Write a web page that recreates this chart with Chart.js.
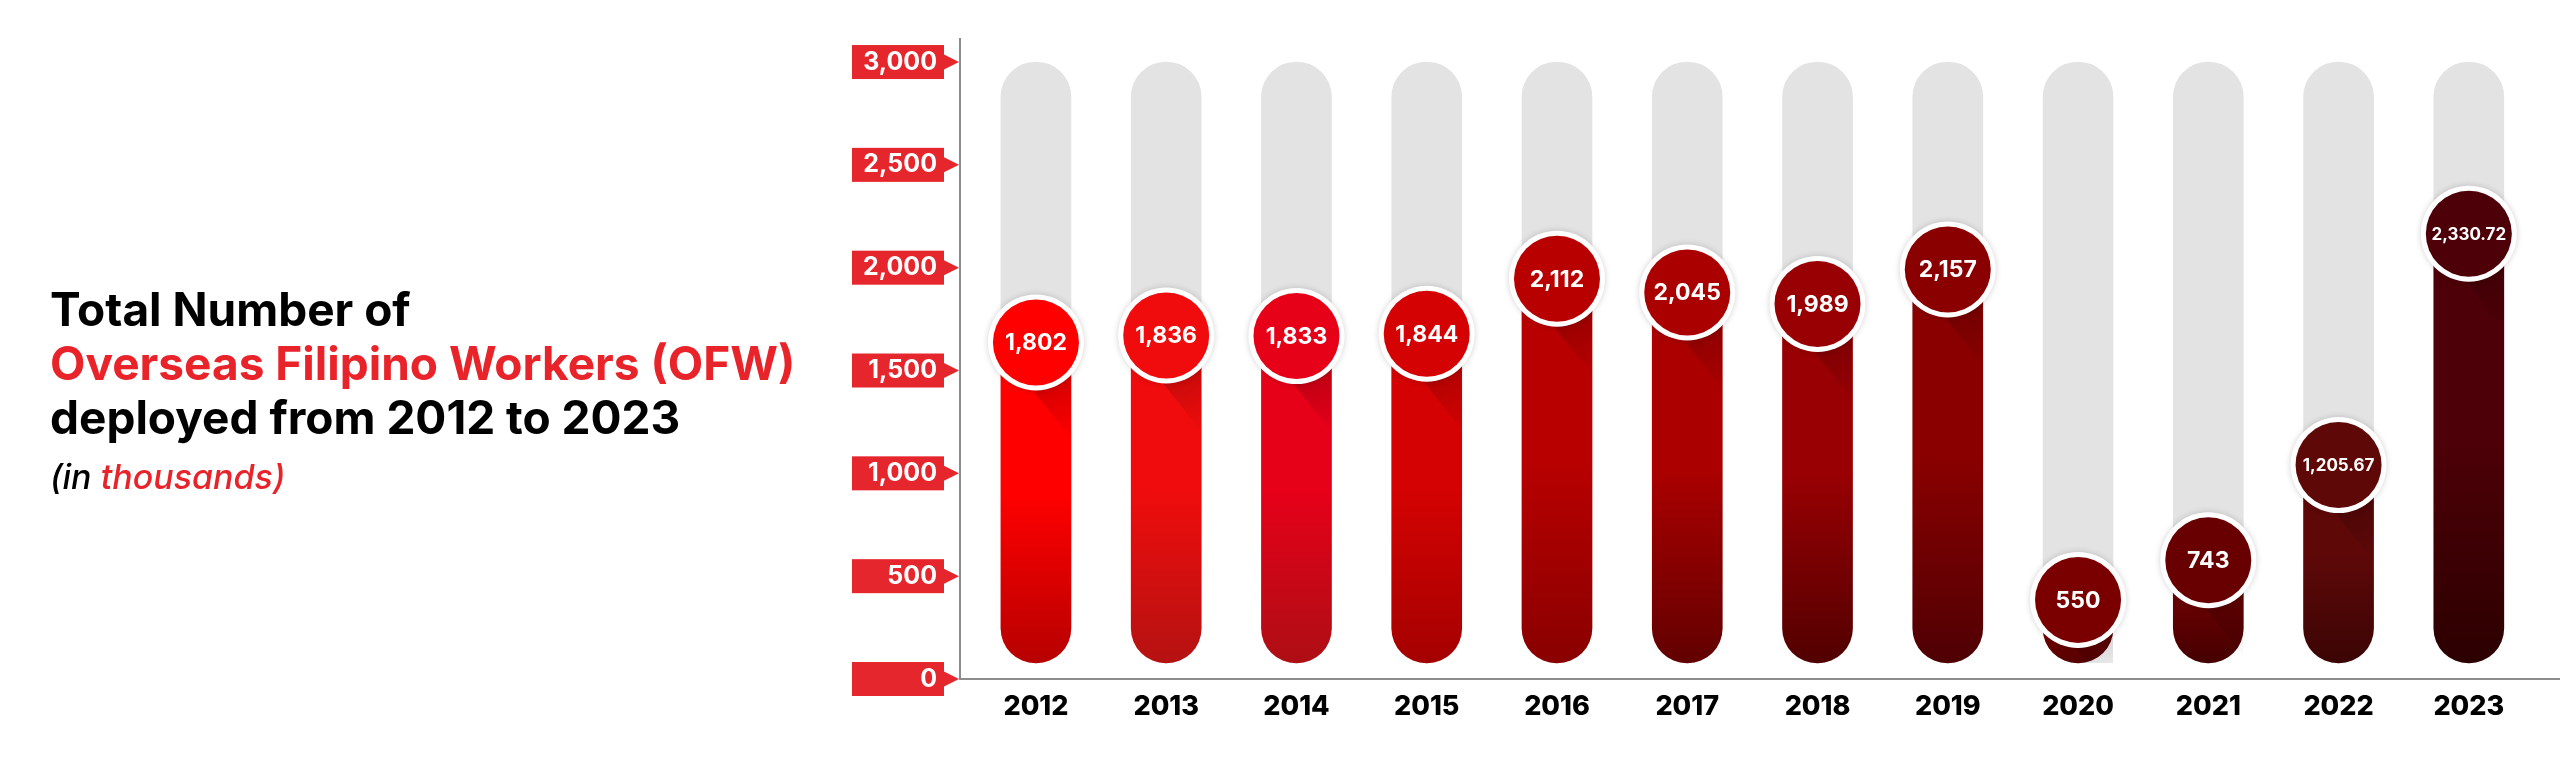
<!DOCTYPE html>
<html>
<head>
<meta charset="utf-8">
<script src="https://cdn.jsdelivr.net/npm/chart.js@4.4.1/dist/chart.umd.min.js"></script>
<style>
    html, body { margin: 0; padding: 0; background: #fff; }
    #wrap { position: relative; width: 2560px; height: 783px; }
    #wrap canvas { position: absolute; left: 0; top: 0; }
    .title { position: absolute; left: 50px; top: 282px; font-family: Inter, sans-serif; font-weight: 700; font-size: 46px; line-height: 54px; color: #000; }
    .title .red { color: #e8232a; }
    .sub { position: absolute; left: 50px; top: 457px; font-family: Inter, sans-serif; font-style: italic; font-weight: 500; font-size: 34px; line-height: 40px; color: #000; }
    .sub .red { color: #e8232a; }
</style>
</head>
<body>
<div id="wrap">
    <canvas id="ofwChart" width="2560" height="783"></canvas>
    <div class="title">
        <div>Total Number of</div>
        <div class="red">Overseas Filipino Workers (OFW)</div>
        <div>deployed from 2012 to 2023</div>
    </div>
    <div class="sub">(in <span class="red">thousands)</span></div>
</div>
<script>
// --- DATA ---
const years = [2012, 2013, 2014, 2015, 2016, 2017, 2018, 2019, 2020, 2021, 2022, 2023];
const ofwDeployed = [1802, 1836, 1833, 1844, 2112, 2045, 1989, 2157, 550, 743, 1205.67, 2330.72];
const yTicks = [0, 500, 1000, 1500, 2000, 2500, 3000];
const trackMax = 3000;

// --- STYLE ---
const barTop = ['#ff0000', '#f00c0c', '#e60018', '#d40202', '#b80000', '#ab0000',
                '#980003', '#8a0000', '#7a0000', '#680002', '#5e0808', '#4d0007'];
const barBottom = ['#b00000', '#b01212', '#a80f14', '#a00000', '#860000', '#5c0000',
                   '#4c0000', '#4a0004', '#480000', '#3c0000', '#360404', '#2a0000'];
const badgeRed = '#e6262d';
const axisGrey = '#8c8c8c';
const barBase = 78;
const fmt = v => v.toLocaleString('en-US', { maximumFractionDigits: 2 });

// red tick badges with an arrow pointing at the axis
const badgePlugin = {
    id: 'badges',
    beforeDraw(chart) {
        const { ctx, scales: { y } } = chart;
        const right = chart.chartArea.left;
        ctx.save();
        ctx.fillStyle = badgeRed;
        y.ticks.forEach(t => {
            const py = y.getPixelForValue(t.value);
            ctx.fillRect(right - 108, py - 17, 92, 34);
            ctx.beginPath();
            ctx.moveTo(right - 17, py - 8);
            ctx.lineTo(right - 1, py);
            ctx.lineTo(right - 17, py + 8);
            ctx.closePath();
            ctx.fill();
        });
        ctx.restore();
    }
};

// value bubbles on top of each bar
const bubblePlugin = {
    id: 'bubbles',
    afterDatasetsDraw(chart) {
        const { ctx } = chart;
        const meta = chart.getDatasetMeta(1);
        meta.data.forEach((bar, i) => {
            const r = 48;
            const cx = bar.x;
            const cy = bar.y + 34;
            const half = bar.width / 2;

            // folded shadow under the bubble
            ctx.save();
            ctx.beginPath();
            ctx.rect(cx - half, cy, bar.width, bar.base - cy);
            ctx.clip();
            const sg = ctx.createLinearGradient(cx, cy, cx + half, cy + r + 50);
            sg.addColorStop(0, 'rgba(0,0,0,0.28)');
            sg.addColorStop(1, 'rgba(0,0,0,0)');
            ctx.fillStyle = sg;
            ctx.beginPath();
            ctx.moveTo(cx - 6, cy + r - 4);
            ctx.lineTo(cx + half, cy + r + 48);
            ctx.lineTo(cx + half, cy);
            ctx.closePath();
            ctx.fill();
            ctx.restore();

            ctx.save();
            ctx.shadowColor = 'rgba(0,0,0,0.18)';
            ctx.shadowBlur = 6;
            ctx.fillStyle = '#ffffff';
            ctx.beginPath();
            ctx.arc(cx, cy, r, 0, Math.PI * 2);
            ctx.fill();
            ctx.restore();

            ctx.save();
            ctx.fillStyle = barTop[i];
            ctx.beginPath();
            ctx.arc(cx, cy, r - 5, 0, Math.PI * 2);
            ctx.fill();
            const txt = fmt(ofwDeployed[i]);
            const size = Number.isInteger(ofwDeployed[i]) ? 23 : 17;
            ctx.fillStyle = '#ffffff';
            ctx.font = '700 ' + size + 'px Inter, sans-serif';
            ctx.textAlign = 'center';
            ctx.textBaseline = 'middle';
            ctx.fillText(txt, cx, cy + 1);
            ctx.restore();
        });
    }
};

const ctxOfw = document.getElementById('ofwChart').getContext('2d');
new Chart(ctxOfw, {
    type: 'bar',
    data: {
        datasets: [
            {
                label: 'Track',
                data: years.map(yr => ({ x: yr, y: trackMax })),
                backgroundColor: '#e3e3e3',
                base: barBase,
                grouped: false,
                order: 2
            },
            {
                label: 'OFW deployed (thousands)',
                data: years.map((yr, i) => ({ x: yr, y: ofwDeployed[i] })),
                backgroundColor: c => {
                    const i = c.dataIndex;
                    const chart = c.chart;
                    const area = chart.chartArea;
                    if (!area || i === undefined) return barTop[0];
                    const top = chart.scales.y.getPixelForValue(ofwDeployed[i]);
                    const g = chart.ctx.createLinearGradient(0, top, 0, area.bottom);
                    g.addColorStop(0, barTop[i]);
                    g.addColorStop(0.5, barTop[i]);
                    g.addColorStop(1, barBottom[i]);
                    return g;
                },
                base: barBase,
                grouped: false,
                order: 1
            }
        ]
    },
    options: {
        responsive: false,
        devicePixelRatio: 1,
        animation: false,
        layout: { padding: { left: 850, top: 39, right: 0, bottom: 0 } },
        datasets: {
            bar: { barThickness: 70, borderRadius: 35, borderSkipped: false }
        },
        plugins: {
            legend: { display: false },
            tooltip: { enabled: false }
        },
        scales: {
            x: {
                type: 'linear',
                offset: false,
                min: 2011.417,
                max: 2023.70,
                afterBuildTicks: s => { s.ticks = years.map(v => ({ value: v })); },
                afterFit: s => { s.height = 104; },
                grid: { display: false, drawTicks: false },
                border: { display: true, color: axisGrey, width: 2 },
                ticks: {
                    padding: 12,
                    autoSkip: false,
                    maxRotation: 0,
                    color: '#000',
                    font: { family: 'Inter, sans-serif', weight: '800', size: 27 },
                    callback: v => String(v)
                }
            },
            y: {
                min: 0,
                max: 3112,
                afterBuildTicks: s => { s.ticks = yTicks.map(v => ({ value: v })); },
                afterFit: s => { s.width = 110; },
                grid: { display: false, drawTicks: false },
                border: { display: true, color: axisGrey, width: 2 },
                ticks: {
                    padding: 23,
                    color: '#ffffff',
                    font: { family: 'Inter, sans-serif', weight: '700', size: 25 },
                    callback: v => fmt(v)
                }
            }
        }
    },
    plugins: [badgePlugin, bubblePlugin]
});
</script>
</body>
</html>
